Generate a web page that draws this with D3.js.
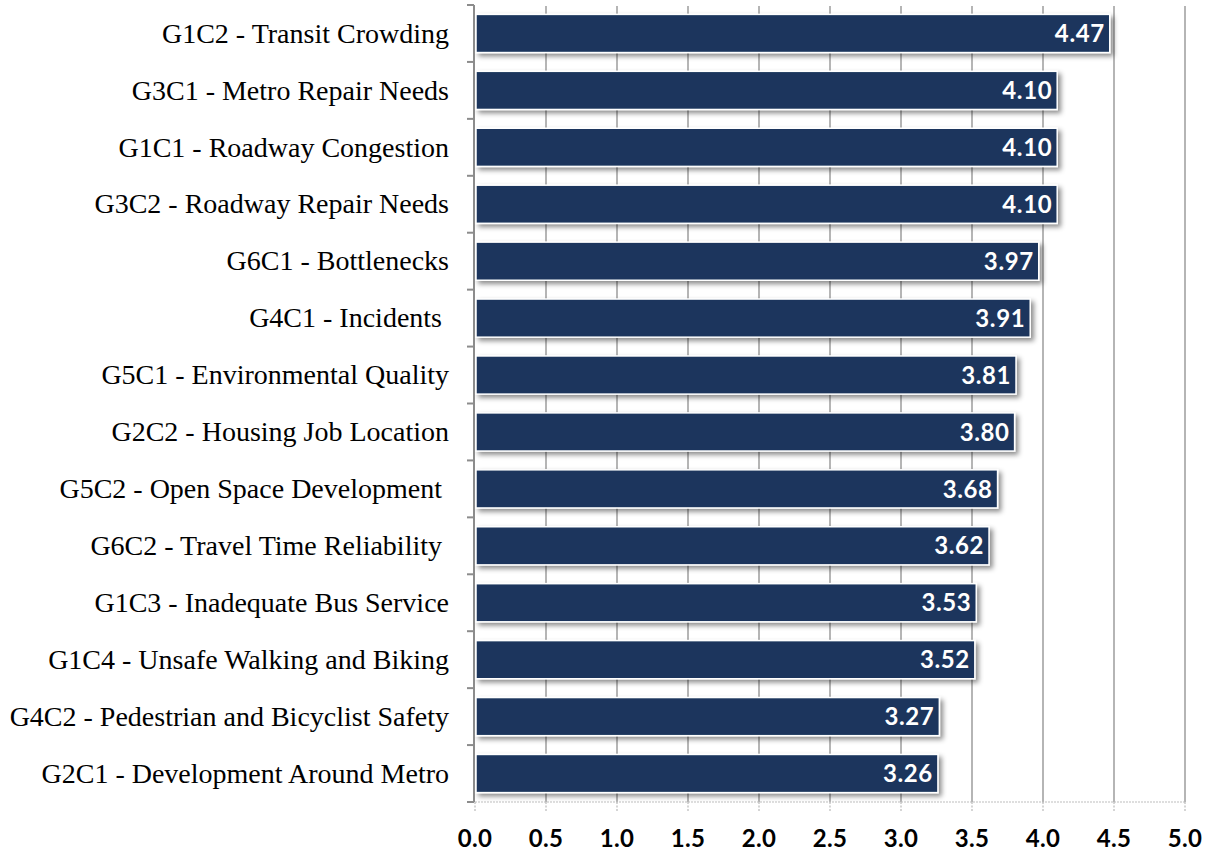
<!DOCTYPE html>
<html><head><meta charset="utf-8">
<script src="https://cdn.jsdelivr.net/npm/d3@7"></script>
<style>
html,body{margin:0;padding:0;background:#fff;}
svg{display:block;}
.cat{font-family:"Liberation Serif","Times New Roman",serif;}
.num{font-family:Lato,"Open Sans",sans-serif;font-weight:700;}
</style></head>
<body>
<svg id="chart" width="1207" height="851"></svg>
<script>
const categories = [
  "G1C2 - Transit Crowding",
  "G3C1 - Metro Repair Needs",
  "G1C1 - Roadway Congestion",
  "G3C2 - Roadway Repair Needs",
  "G6C1 - Bottlenecks",
  "G4C1 - Incidents ",
  "G5C1 - Environmental Quality",
  "G2C2 - Housing Job Location",
  "G5C2 - Open Space Development ",
  "G6C2 - Travel Time Reliability ",
  "G1C3 - Inadequate Bus Service",
  "G1C4 - Unsafe Walking and Biking",
  "G4C2 - Pedestrian and Bicyclist Safety",
  "G2C1 - Development Around Metro"
];
const values = [4.47, 4.10, 4.10, 4.10, 3.97, 3.91, 3.81, 3.80, 3.68, 3.62, 3.53, 3.52, 3.27, 3.26];
const tickValues = [0, 0.5, 1.0, 1.5, 2.0, 2.5, 3.0, 3.5, 4.0, 4.5, 5.0];

const svg = d3.select("#chart");
const pLeft = 475, pRight = 1185, pTop = 5, pBottom = 802;

const x = d3.scaleLinear().domain([0, 5]).range([pLeft, pRight]);
const y = d3.scaleBand().domain(categories).range([pTop, pBottom]).paddingInner(0.33).paddingOuter(0.165);
const yb = d3.scaleBand().domain(categories).range([pTop, pBottom]).padding(0);

const defs = svg.append("defs");
const f = defs.append("filter").attr("id","shadow").attr("x","-5%").attr("y","-30%").attr("width","115%").attr("height","180%");
f.append("feDropShadow").attr("dx",3).attr("dy",3).attr("stdDeviation",2.5).attr("flood-color","#000").attr("flood-opacity",0.45);

// gridlines
svg.append("g").selectAll("line").data(tickValues.filter(d=>d>0)).join("line")
  .attr("x1", d=>x(d)).attr("x2", d=>x(d))
  .attr("y1", pTop+1).attr("y2", pBottom)
  .attr("stroke","#b5b5b5").attr("stroke-width",2);
// tick stubs below bottom (dotted)
svg.append("g").selectAll("line").data(tickValues).join("line")
  .attr("x1", d=>x(d)).attr("x2", d=>x(d))
  .attr("y1", pBottom).attr("y2", pBottom+10)
  .attr("stroke","#c8c8c8").attr("stroke-width",1.5).attr("stroke-dasharray","2,1.5");
// bottom dotted line
svg.append("line").attr("x1", pLeft).attr("x2", pRight).attr("y1", pBottom).attr("y2", pBottom)
  .attr("stroke","#bdbdbd").attr("stroke-width",1).attr("stroke-dasharray","2,1");

// bars
svg.append("g").selectAll("rect").data(values).join("rect")
  .attr("x", x(0)+1)
  .attr("y", (d,i)=>y(categories[i]))
  .attr("width", d=>x(d)-x(0)-1)
  .attr("height", y.bandwidth())
  .attr("fill","#1a365d")
  .attr("stroke","#ffffff").attr("stroke-width",1.5)
  .attr("filter","url(#shadow)");

// left axis
svg.append("line").attr("x1", pLeft-1).attr("x2", pLeft-1).attr("y1", pTop).attr("y2", pBottom)
  .attr("stroke","#8c8c8c").attr("stroke-width",2);
const yTicks = categories.map(c=>yb(c)).concat([pBottom]);
svg.append("g").selectAll("line").data(yTicks).join("line")
  .attr("x1", pLeft-8).attr("x2", pLeft-1).attr("y1", d=>d).attr("y2", d=>d)
  .attr("stroke","#8c8c8c").attr("stroke-width",2);

// category labels
svg.append("g").selectAll("text").data(categories).join("text")
  .attr("class","cat")
  .attr("x", 449)
  .attr("y", c=>y(c)+y.bandwidth()/2)
  .attr("dy","0.33em")
  .attr("text-anchor","end")
  .attr("font-size",28)
  .attr("fill","#000")
  .style("white-space","pre")
  .text(c=>c);

// value labels
svg.append("g").selectAll("text").data(values).join("text")
  .attr("class","num")
  .attr("x", d=>x(d)-5)
  .attr("y", (d,i)=>y(categories[i])+y.bandwidth()/2)
  .attr("dy","0.36em")
  .attr("text-anchor","end")
  .attr("font-size",24)
  .attr("letter-spacing","0.6px")
  .attr("fill","#fff")
  .text(d=>d.toFixed(2));

// x tick labels
svg.append("g").selectAll("text").data(tickValues).join("text")
  .attr("class","num")
  .attr("x", d=>x(d))
  .attr("y", 838)
  .attr("dy","0.36em")
  .attr("text-anchor","middle")
  .attr("font-size",24)
  .attr("letter-spacing","0.4px")
  .attr("fill","#000")
  .text(d=>d.toFixed(1));
</script>
</body></html>
